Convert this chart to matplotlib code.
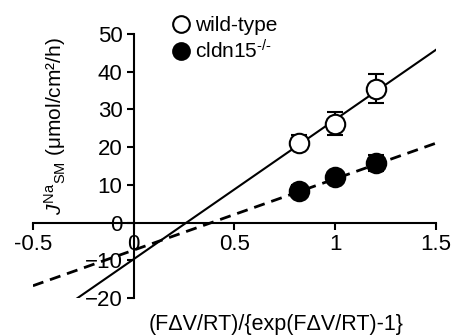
import matplotlib
matplotlib.use("Agg")
import matplotlib.pyplot as plt
from matplotlib.lines import Line2D
import numpy as np

plt.rcParams['font.family'] = ['Liberation Sans', 'DejaVu Sans']
plt.rcParams['mathtext.fontset'] = 'custom'
plt.rcParams['mathtext.rm'] = 'Liberation Sans'
plt.rcParams['mathtext.it'] = 'Liberation Sans:italic'

# data
x_pts = np.array([0.82, 1.0, 1.2])
wt_y = np.array([21.2, 26.2, 35.5])
wt_err = np.array([2.0, 3.0, 3.8])
ko_y = np.array([8.5, 12.0, 15.8])
ko_err = np.array([1.5, 1.5, 2.0])

# fitted lines (slope, intercept)
wt_fit = (37.0, -9.7)
ko_fit = (18.9, -7.3)
wt_xrange = np.array([-0.28, 1.5])
ko_xrange = np.array([-0.5, 1.5])

fig = plt.figure(figsize=(4.57, 3.36), dpi=100)
ax = fig.add_axes([0.072, 0.113, 0.882, 0.786])

ax.plot(wt_xrange, wt_fit[0] * wt_xrange + wt_fit[1], color='black', lw=1.5, zorder=2)
ax.plot(ko_xrange, ko_fit[0] * ko_xrange + ko_fit[1], color='black', lw=2,
        linestyle=(0, (4, 2.5)), zorder=2)

ax.errorbar(x_pts, wt_y, yerr=wt_err, fmt='o', mfc='white', mec='black', mew=1.5,
            ms=14, ecolor='black', elinewidth=1.5, capsize=6, capthick=1.5, zorder=3)
ax.errorbar(x_pts, ko_y, yerr=ko_err, fmt='o', mfc='black', mec='black', mew=1.5,
            ms=14, ecolor='black', elinewidth=1.5, capsize=6, capthick=1.5, zorder=3)

ax.set_xlim(-0.5, 1.5)
ax.set_ylim(-20, 50)
ax.spines['top'].set_visible(False)
ax.spines['right'].set_visible(False)
ax.spines['left'].set_position(('data', 0))
ax.spines['bottom'].set_position(('data', 0))
ax.spines['left'].set_linewidth(1.5)
ax.spines['bottom'].set_linewidth(1.5)

ax.set_xticks([-0.5, 0, 0.5, 1, 1.5])
ax.set_xticklabels(['-0.5', '0', '0.5', '1', '1.5'])
ax.set_yticks([-20, -10, 0, 10, 20, 30, 40, 50])
ax.tick_params(axis='both', direction='out', length=5, width=1.5, labelsize=16, pad=3)

handles = [
    Line2D([], [], marker='o', ls='none', mfc='white', mec='black', mew=1.5, ms=12),
    Line2D([], [], marker='o', ls='none', mfc='black', mec='black', mew=1.5, ms=12),
]
ax.legend(handles, ['wild-type', r'cldn15$^{\text{-/-}}$'], loc='upper left',
          bbox_to_anchor=(0.315, 1.098), frameon=False, fontsize=15,
          handletextpad=0.1, borderaxespad=0, labelspacing=0.2, handlelength=1.2)

fig.text(0.12, 0.625, r'$\mathit{J}^{\mathrm{Na}}{}_{\mathrm{SM}}$ (μmol/cm²/h)',
         rotation=90, ha='center', va='center', fontsize=15)
fig.text(0.603, 0.034, '(FΔV/RT)/{exp(FΔV/RT)-1}', ha='center', va='center', fontsize=15.5)

fig.savefig('out.png', dpi=100)
